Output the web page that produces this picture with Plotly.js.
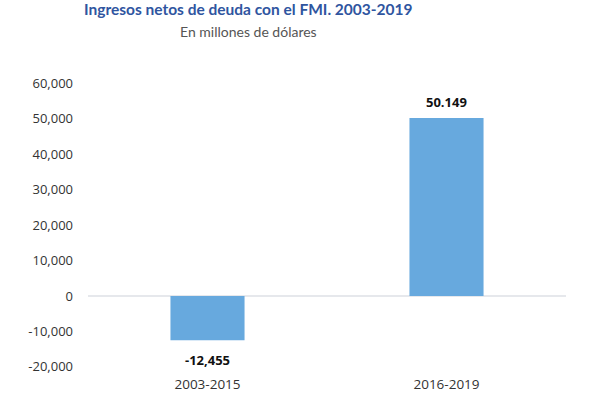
<!DOCTYPE html>
<html><head><meta charset="utf-8">
<script src="https://cdn.plot.ly/plotly-3.0.1.min.js"></script>
<style>html,body{margin:0;padding:0;background:#fff}#chart{width:610px;height:418px}</style>
</head><body><div id="chart"></div>
<script>
const categories = ["2003-2015", "2016-2019"];
const values = [-12455, 50149];
const valueLabels = ["-12,455", "50.149"];
const tickVals = [-20000, -10000, 0, 10000, 20000, 30000, 40000, 50000, 60000];
const tickText = ["-20,000", "-10,000", "0", "10,000", "20,000", "30,000", "40,000", "50,000", "60,000"];

const trace = {
  type: 'bar', x: categories, y: values,
  marker: {color: '#67a9de'},
  width: 0.31,
  hoverinfo: 'none'
};
const labelAnns = categories.map((c, i) => ({
  x: c, y: values[i], xref: 'x', yref: 'y', showarrow: false,
  text: '<b>' + valueLabels[i] + '</b>',
  yanchor: 'middle', yshift: values[i] >= 0 ? 16 : -20,
  font: {family: 'Open Sans, sans-serif', size: 13, color: '#111'}
}));
const layout = {
  width: 610, height: 418,
  margin: {l: 88, r: 44, t: 76, b: 44},
  paper_bgcolor: '#fff', plot_bgcolor: '#fff',
  showlegend: false,
  font: {family: 'Open Sans, sans-serif', color: '#333'},
  xaxis: {showgrid: false, zeroline: false, showline: false, ticks: '',
          tickfont: {size: 13.5, color: '#333'}},
  yaxis: {range: [-22000, 62000], tickvals: tickVals, ticktext: tickText,
          showgrid: false, zeroline: true, zerolinecolor: '#e6e8ec', zerolinewidth: 2,
          showline: false, ticks: '', ticklabelstandoff: 14,
          tickfont: {size: 13, color: '#333'}},
  annotations: [
    {text: '<b>Ingresos netos de deuda con el FMI. 2003-2019</b>', xref: 'paper', yref: 'paper',
     x: (248-88)/478, y: 1, yshift: 67, xanchor: 'center', yanchor: 'middle', showarrow: false,
     font: {size: 15.5, color: '#2f55a0', family: 'Lato, sans-serif'}},
    {text: 'En millones de dólares', xref: 'paper', yref: 'paper',
     x: (248-88)/478, y: 1, yshift: 45, xanchor: 'center', yanchor: 'middle', showarrow: false,
     font: {size: 14, color: '#555', family: 'Lato, sans-serif'}}
  ].concat(labelAnns)
};
Plotly.newPlot('chart', [trace], layout, {displayModeBar: false, staticPlot: true});
</script></body></html>
